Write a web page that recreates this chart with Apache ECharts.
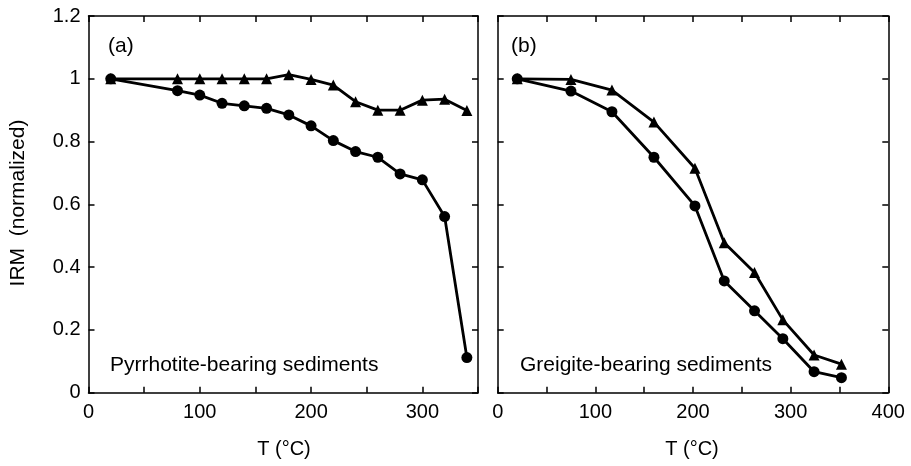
<!DOCTYPE html>
<html>
<head>
<meta charset="utf-8">
<script src="https://cdn.jsdelivr.net/npm/echarts@6/dist/echarts.min.js"></script>
<style>html,body{margin:0;padding:0;background:#fff;}#main{width:911px;height:466px;}</style>
</head>
<body>
<div id="main"></div>
<script>
// Panel (a): pyrrhotite-bearing sediments
const tempA = [20, 80, 100, 120, 140, 160, 180, 200, 220, 240, 260, 280, 300, 320, 340];
const pyrCircle = [1.0, 0.962, 0.948, 0.922, 0.914, 0.906, 0.885, 0.850, 0.803, 0.768, 0.750, 0.697, 0.678, 0.561, 0.112];
const pyrTriangle = [1.0, 1.0, 1.0, 1.0, 1.0, 1.0, 1.013, 0.998, 0.980, 0.927, 0.900, 0.900, 0.932, 0.935, 0.899];
// Panel (b): greigite-bearing sediments
const tempB = [20, 75, 117, 160, 202, 232, 263, 292, 324, 352];
const greCircle = [1.0, 0.961, 0.895, 0.750, 0.595, 0.356, 0.261, 0.172, 0.067, 0.048];
const greTriangle = [1.0, 0.998, 0.964, 0.862, 0.715, 0.478, 0.383, 0.232, 0.120, 0.091];
// Axis ticks
const yTicks = [0, 0.2, 0.4, 0.6, 0.8, 1, 1.2];
const xLabelsA = [0, 100, 200, 300];
const xLabelsB = [0, 100, 200, 300, 400];

const FONT = 'Liberation Sans';
const chart = echarts.init(document.getElementById('main'));
const pair = (xs, ys) => xs.map((x, i) => [x, ys[i]]);

function xAx(grid, max, labels, pos, show) {
  return {
    type: 'value', gridIndex: grid, min: 0, max: max, interval: 50, position: pos,
    axisLine: {show: true, onZero: false, lineStyle: {color: '#000', width: 1.5}},
    axisTick: {show: true, inside: true, length: 6, lineStyle: {color: '#000', width: 1.5}},
    splitLine: {show: false},
    axisLabel: {show: show, color: '#000', fontFamily: FONT, fontSize: 20, margin: 10,
      formatter: v => labels.indexOf(v) >= 0 ? String(v) : ''}
  };
}
function yAx(grid, pos, show) {
  return {
    type: 'value', gridIndex: grid, min: 0, max: 1.2, interval: 0.2, position: pos,
    axisLine: {show: true, onZero: false, lineStyle: {color: '#000', width: 1.5}},
    axisTick: {show: true, inside: true, length: 6, lineStyle: {color: '#000', width: 1.5}},
    splitLine: {show: false},
    axisLabel: {show: show, color: '#000', fontFamily: FONT, fontSize: 20, margin: 8,
      formatter: v => { const t = yTicks.find(k => Math.abs(k - v) < 1e-6); return t === undefined ? '' : String(t); }}
  };
}
function ser(xi, yi, data, sym, size) {
  return {
    type: 'line', xAxisIndex: xi, yAxisIndex: yi, data: data, symbol: sym, symbolSize: size,
    lineStyle: {color: '#000', width: 2.8}, itemStyle: {color: '#000'}, silent: true, animation: false
  };
}

chart.setOption({
  backgroundColor: '#fff',
  animation: false,
  grid: [
    {left: 88.5, right: 433, top: 16, bottom: 73.3},
    {left: 497.7, right: 22.7, top: 16, bottom: 73.3}
  ],
  xAxis: [
    xAx(0, 350, xLabelsA, 'bottom', true),
    xAx(0, 350, xLabelsA, 'top', false),
    xAx(1, 400, xLabelsB, 'bottom', true),
    xAx(1, 400, xLabelsB, 'top', false)
  ],
  yAxis: [
    yAx(0, 'left', true),
    yAx(0, 'right', false),
    yAx(1, 'left', false),
    yAx(1, 'right', false)
  ],
  series: [
    ser(0, 0, pair(tempA, pyrTriangle), 'triangle', 11),
    ser(0, 0, pair(tempA, pyrCircle), 'circle', 11),
    ser(2, 2, pair(tempB, greTriangle), 'triangle', 11),
    ser(2, 2, pair(tempB, greCircle), 'circle', 11)
  ],
  graphic: [
    {type: 'text', x: 108, y: 46, style: {text: '(a)', font: '21px "Liberation Sans"', fill: '#000', verticalAlign: 'middle'}},
    {type: 'text', x: 511, y: 46, style: {text: '(b)', font: '21px "Liberation Sans"', fill: '#000', verticalAlign: 'middle'}},
    {type: 'text', x: 110, y: 365, style: {text: 'Pyrrhotite-bearing sediments', font: '21px "Liberation Sans"', fill: '#000', verticalAlign: 'middle'}},
    {type: 'text', x: 520, y: 365, style: {text: 'Greigite-bearing sediments', font: '21px "Liberation Sans"', fill: '#000', verticalAlign: 'middle'}},
    {type: 'text', x: 284, y: 449, style: {text: 'T (°C)', font: '20px "Liberation Sans"', fill: '#000', align: 'center', verticalAlign: 'middle'}},
    {type: 'text', x: 692, y: 449, style: {text: 'T (°C)', font: '20px "Liberation Sans"', fill: '#000', align: 'center', verticalAlign: 'middle'}},
    {type: 'text', x: 18, y: 203, rotation: Math.PI / 2, style: {text: 'IRM  (normalized)', font: '21px "Liberation Sans"', fill: '#000', align: 'center', verticalAlign: 'middle'}}
  ]
});
</script>
</body>
</html>
